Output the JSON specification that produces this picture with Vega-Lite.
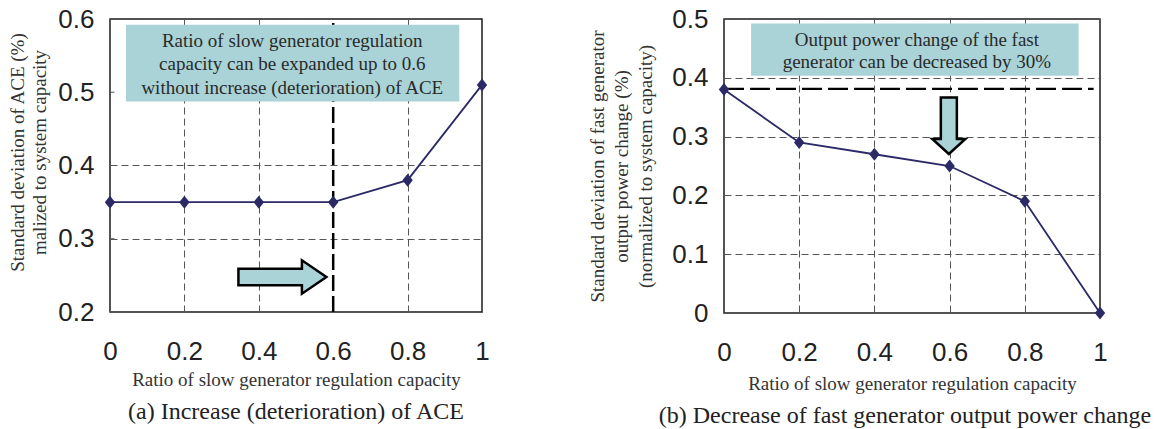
{
  "$schema": "https://vega.github.io/schema/vega-lite/v6.json",
  "padding": {"left": 8, "top": 5, "right": 2, "bottom": 2},
  "background": "white",
  "config": {
    "font": "Liberation Serif",
    "view": {"stroke": "#1a1a1a", "strokeWidth": 1.5},
    "axis": {
      "domain": false,
      "ticks": false,
      "labelFont": "Liberation Sans",
      "labelFontSize": 26,
      "labelColor": "#222222",
      "labelPadding": 16,
      "labelFlush": false,
      "titleFont": "Liberation Serif",
      "titleFontSize": 19,
      "titleFontWeight": "normal",
      "titleColor": "#333333",
      "gridColor": "#555555",
      "gridDash": [7, 4],
      "gridWidth": 1
    },
    "axisX": {"labelPadding": 26, "titlePadding": 6},
    "title": {"font": "Liberation Serif", "fontSize": 24, "fontWeight": "normal", "color": "#222222"}
  },
  "bounds": "flush",
  "spacing": 242,
  "hconcat": [
    {
      "width": 372,
      "height": 293,
      "title": {"text": "(a) Increase (deterioration) of ACE", "orient": "bottom", "offset": 11},
      "encoding": {
        "x": {
          "field": "x", "type": "quantitative",
          "scale": {"domain": [0, 1], "nice": false},
          "axis": {
            "values": [0, 0.2, 0.4, 0.6, 0.8, 1], "format": "~g",
            "title": "Ratio of slow generator regulation capacity",
            "gridOpacity": {"condition": {"test": "datum.value === 0.6", "value": 0}, "value": 1}
          }
        },
        "y": {
          "field": "y", "type": "quantitative",
          "scale": {"domain": [0.2, 0.6], "nice": false, "zero": false},
          "axis": {
            "values": [0.2, 0.3, 0.4, 0.5, 0.6], "format": "~g",
            "title": ["Standard deviation of ACE (%)", "malized to system capacity"],
            "titleLineHeight": 22, "titlePadding": 8, "titleY": 133,
            "gridOpacity": {"condition": {"test": "datum.value === 0.5", "value": 0}, "value": 1}
          }
        }
      },
      "layer": [
        {
          "data": {"values": [{"x": 0.6, "y": 0.2, "y2": 0.6}]},
          "mark": {"type": "rule", "stroke": "#000000", "strokeWidth": 2.5, "strokeDash": [16, 5]},
          "encoding": {"y2": {"field": "y2"}}
        },
        {
          "data": {"values": [{"x": 0.043, "x2": 0.939, "y": 0.5922, "y2": 0.4874}]},
          "mark": {"type": "rect", "fill": "#a9d3d6"},
          "encoding": {"x2": {"field": "x2"}, "y2": {"field": "y2"}}
        },
        {
          "data": {"values": [{"x": 0, "x2": 0.012, "y": 0.3}, {"x": 0, "x2": 0.012, "y": 0.4}, {"x": 0, "x2": 0.012, "y": 0.5}]},
          "mark": {"type": "rule", "stroke": "#555555", "strokeWidth": 1},
          "encoding": {"x2": {"field": "x2"}}
        },
        {
          "data": {"values": [{"x": 0, "y": 0.35}, {"x": 0.2, "y": 0.35}, {"x": 0.4, "y": 0.35}, {"x": 0.6, "y": 0.35}, {"x": 0.8, "y": 0.38}, {"x": 1, "y": 0.51}]},
          "layer": [
            {"mark": {"type": "line", "color": "#2b2a66", "strokeWidth": 1.8}, "encoding": {}},
            {"mark": {"type": "point", "shape": "M0,-1L0.8,0L0,1L-0.8,0Z", "size": 169, "filled": true, "color": "#2b2a66", "opacity": 1}, "encoding": {}}
          ]
        },
        {
          "data": {"values": [{"x": 0.4635, "y": 0.2478}]},
          "mark": {"type": "point", "shape": "M-1,-0.19L0.443,-0.19L0.443,-0.38L1,0L0.443,0.38L0.443,0.19L-1,0.19Z", "size": 7744, "filled": true, "fill": "#a9d3d6", "stroke": "#000000", "strokeWidth": 2.5, "opacity": 1}
        },
        {
          "data": {"values": [{"x": 0.49, "y": 0.5703, "label": "Ratio of slow generator regulation\ncapacity can be expanded up to 0.6\nwithout increase (deterioration) of ACE"}]},
          "mark": {"type": "text", "lineBreak": "\n", "font": "Liberation Serif", "fontSize": 19, "lineHeight": 23.5, "color": "#2a2a2a", "align": "center", "baseline": "middle"},
          "encoding": {"text": {"field": "label"}}
        }
      ]
    },
    {
      "width": 376,
      "height": 294,
      "title": {"text": "(b) Decrease of fast generator output power change", "orient": "bottom", "offset": 11, "dx": -7},
      "encoding": {
        "x": {
          "field": "x", "type": "quantitative",
          "scale": {"domain": [0, 1], "nice": false},
          "axis": {
            "values": [0, 0.2, 0.4, 0.6, 0.8, 1], "format": "~g",
            "title": "Ratio of slow generator regulation capacity", "titlePadding": 9
          }
        },
        "y": {
          "field": "y", "type": "quantitative",
          "scale": {"domain": [0, 0.5], "nice": false},
          "axis": {
            "values": [0, 0.1, 0.2, 0.3, 0.4, 0.5], "format": "~g",
            "title": ["Standard deviation of fast generator", "output power change (%)", "(normalized to system capacity)"],
            "titleLineHeight": 24, "titlePadding": 16
          }
        }
      },
      "layer": [
        {
          "data": {"values": [{"x": 0.072, "x2": 0.943, "y": 0.4925, "y2": 0.4036}]},
          "mark": {"type": "rect", "fill": "#a9d3d6"},
          "encoding": {"x2": {"field": "x2"}, "y2": {"field": "y2"}}
        },
        {
          "data": {"values": [{"x": 0, "x2": 0.983, "y": 0.381}]},
          "mark": {"type": "rule", "stroke": "#000000", "strokeWidth": 2.2, "strokeDash": [20, 6]},
          "encoding": {"x2": {"field": "x2"}}
        },
        {
          "data": {"values": [{"x": 0, "y": 0.38}, {"x": 0.2, "y": 0.29}, {"x": 0.4, "y": 0.27}, {"x": 0.6, "y": 0.25}, {"x": 0.8, "y": 0.19}, {"x": 1, "y": 0}]},
          "layer": [
            {"mark": {"type": "line", "color": "#2b2a66", "strokeWidth": 1.8}, "encoding": {}},
            {"mark": {"type": "point", "shape": "M0,-1L0.8,0L0,1L-0.8,0Z", "size": 169, "filled": true, "color": "#2b2a66", "opacity": 1}, "encoding": {}}
          ]
        },
        {
          "data": {"values": [{"x": 0.598, "y": 0.3185}]},
          "mark": {"type": "point", "shape": "M-0.283,-1L0.283,-1L0.283,0.47L0.583,0.47L0,1L-0.583,0.47L-0.283,0.47Z", "size": 3204, "filled": true, "fill": "#a9d3d6", "stroke": "#000000", "strokeWidth": 2.5, "opacity": 1}
        },
        {
          "data": {"values": [{"x": 0.513, "y": 0.4643, "label": "Output power change of the fast\ngenerator can be decreased by 30%"}]},
          "mark": {"type": "text", "lineBreak": "\n", "font": "Liberation Serif", "fontSize": 19, "lineHeight": 22.4, "color": "#2a2a2a", "align": "center", "baseline": "middle"},
          "encoding": {"text": {"field": "label"}}
        }
      ]
    }
  ]
}
